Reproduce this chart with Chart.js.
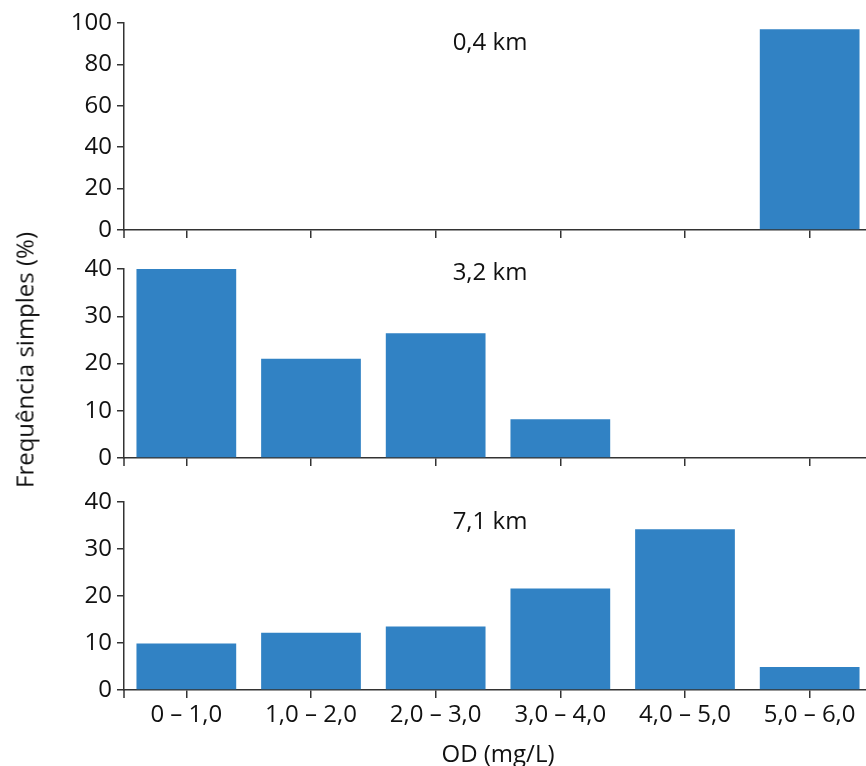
<!DOCTYPE html>
<html lang="pt-br">
<head>
  <meta charset="UTF-8" />
  <title>Frequência simples de OD</title>
  <style>
    html, body {
      margin: 0;
      padding: 0;
      background: #ffffff;
      overflow: hidden;
    }

    .painel {
      position: absolute;
      left: 0;
    }

    .km, .tituloY {
      position: absolute;
      font-family: 'Open Sans', sans-serif;
      font-size: 24px;
      color: #111;
      white-space: nowrap;
    }

    .km {
      left: 490px;
      transform: translate(-50%, -50%);
    }

    .tituloY {
      left: 24px;
      top: 360px;
      transform: translate(-50%, -50%) rotate(-90deg);
    }
  </style>
</head>
<body>
  <canvas id="p1" class="painel" width="872" height="240" style="top:0px"></canvas>
  <canvas id="p2" class="painel" width="872" height="228" style="top:240px"></canvas>
  <canvas id="p3" class="painel" width="872" height="300" style="top:470px"></canvas>

  <div class="km" id="lab1" style="top:40px"></div>
  <div class="km" id="lab2" style="top:270px"></div>
  <div class="km" id="lab3" style="top:519px"></div>
  <div class="tituloY" id="tituloY"></div>

  <script src="https://cdn.jsdelivr.net/npm/chart.js"></script>
  <script>
    // faixas de OD (mg/L)
    const categorias = ['0 – 1,0', '1,0 – 2,0', '2,0 – 3,0', '3,0 – 4,0', '4,0 – 5,0', '5,0 – 6,0'];

    // frequência simples (%) por distância
    const km04 = [0, 0, 0, 0, 0, 97];
    const km32 = [40, 21, 26.4, 8.2, 0, 0];
    const km71 = [9.9, 12.2, 13.5, 21.6, 34.2, 4.9];

    const rotulos = ['0,4 km', '3,2 km', '7,1 km'];
    const yMaximos = [100, 40, 40];
    const yPassos = [20, 10, 10];

    const tituloY = 'Frequência simples (%)';
    const tituloX = 'OD (mg/L)';

    const corBarra = '#3182C4';
    const corEixo = '#333333';

    Chart.defaults.font.family = "'Open Sans', sans-serif";
    Chart.defaults.color = '#111111';

    // prolonga o eixo y um pouco abaixo da base, como no original
    const pontaEixo = {
      id: 'pontaEixo',
      afterDraw(chart) {
        const { ctx, chartArea } = chart;
        ctx.save();
        ctx.strokeStyle = corEixo;
        ctx.lineWidth = 1.5;
        ctx.beginPath();
        ctx.moveTo(chartArea.left, chartArea.bottom);
        ctx.lineTo(chartArea.left, chartArea.bottom + 8);
        ctx.stroke();
        ctx.restore();
      }
    };

    function painel(id, valores, i, ultimo, padTopo, alturaX) {
      new Chart(document.getElementById(id), {
        type: 'bar',
        data: {
          labels: categorias,
          datasets: [{
            data: valores,
            backgroundColor: corBarra,
            borderWidth: 0,
            barPercentage: 0.8,
            categoryPercentage: 1.0
          }]
        },
        options: {
          responsive: false,
          animation: false,
          layout: { padding: { top: padTopo, left: 0, right: 0, bottom: 0 } },
          plugins: {
            legend: { display: false },
            tooltip: { enabled: false }
          },
          scales: {
            x: {
              offset: true,
              grid: {
                display: true,
                offset: false,
                drawOnChartArea: false,
                drawTicks: true,
                tickLength: 8,
                color: corEixo,
                lineWidth: 1.5
              },
              border: { display: true, color: corEixo, width: 1.5 },
              ticks: {
                display: ultimo,
                padding: 3,
                maxRotation: 0,
                autoSkip: false,
                font: { size: 24 }
              },
              title: {
                display: ultimo,
                text: tituloX,
                font: { size: 24 },
                padding: { top: 0, bottom: 0 }
              },
              afterFit(scale) {
                scale.height = alturaX;
                scale.paddingLeft = 0;
                scale.paddingRight = 0;
              }
            },
            y: {
              min: 0,
              max: yMaximos[i],
              grid: {
                display: true,
                drawOnChartArea: false,
                drawTicks: true,
                tickLength: 7,
                color: corEixo,
                lineWidth: 1.5
              },
              border: { display: true, color: corEixo, width: 1.5 },
              ticks: {
                stepSize: yPassos[i],
                padding: 5,
                font: { size: 24 }
              },
              afterFit(scale) {
                scale.width = 124;
                scale.paddingTop = 0;
                scale.paddingBottom = 0;
              }
            }
          }
        },
        plugins: [pontaEixo]
      });
      document.getElementById('lab' + (i + 1)).textContent = rotulos[i];
    }

    painel('p1', km04, 0, false, 23, 10);
    painel('p2', km32, 1, false, 29, 10);
    painel('p3', km71, 2, true, 32, 80);

    document.getElementById('tituloY').textContent = tituloY;
  </script>
</body>
</html>
